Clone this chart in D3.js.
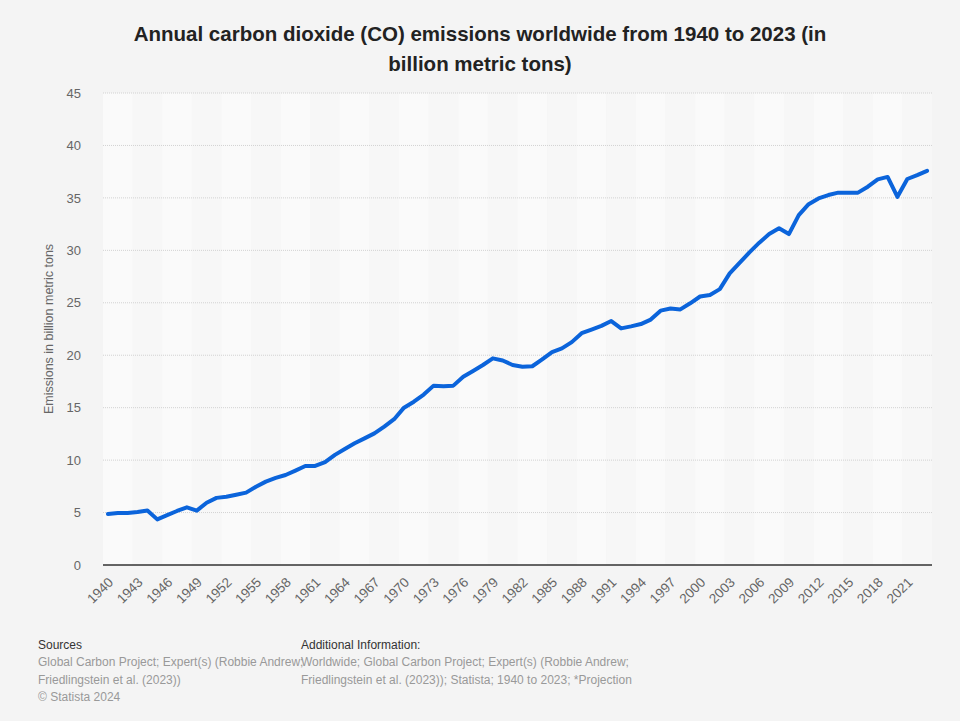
<!DOCTYPE html>
<html>
<head>
<meta charset="utf-8">
<script src="https://cdn.jsdelivr.net/npm/d3@7"></script>
<style>
  html, body { margin: 0; padding: 0; background: #f4f4f4; }
  svg { display: block; font-family: "Liberation Sans", Arial, sans-serif; }
</style>
</head>
<body>
<svg id="chart" width="960" height="721"></svg>
<script>
const years = d3.range(1940, 2024);
const emissions = [
  4.86, 4.95, 4.95, 5.05, 5.2, 4.35, 4.75, 5.15, 5.5, 5.18,
  5.94, 6.4, 6.5, 6.7, 6.9, 7.46, 7.95, 8.3, 8.58, 9.0,
  9.44, 9.44, 9.8, 10.5, 11.06, 11.6, 12.07, 12.55, 13.2, 13.9,
  15.0, 15.57, 16.25, 17.1, 17.05, 17.1, 17.95, 18.5, 19.07, 19.7,
  19.5, 19.07, 18.9, 18.95, 19.6, 20.3, 20.65, 21.25, 22.1, 22.45,
  22.8, 23.26, 22.56, 22.75, 22.97, 23.4, 24.25, 24.45, 24.37, 24.95,
  25.6, 25.75, 26.3, 27.8, 28.8, 29.8, 30.73, 31.55, 32.1, 31.55,
  33.36, 34.4, 34.95, 35.27, 35.5, 35.5, 35.5, 36.07, 36.77, 37.0,
  35.1, 36.8, 37.17, 37.58
];
const yTicks = [0, 5, 10, 15, 20, 25, 30, 35, 40, 45];
const xTickYears = years.filter(y => (y - 1940) % 3 === 0);

const titleLines = [
  "Annual carbon dioxide (CO) emissions worldwide from 1940 to 2023 (in",
  "billion metric tons)"
];
const yAxisTitle = "Emissions in billion metric tons";
const sourcesHead = "Sources";
const sourcesLines = [
  "Global Carbon Project; Expert(s) (Robbie Andrew;",
  "Friedlingstein et al. (2023))",
  "© Statista 2024"
];
const addInfoHead = "Additional Information:";
const addInfoLines = [
  "Worldwide; Global Carbon Project; Expert(s) (Robbie Andrew;",
  "Friedlingstein et al. (2023)); Statista; 1940 to 2023; *Projection"
];

const svg = d3.select("#chart");
const plot = { left: 103, right: 932, top: 93, bottom: 565 };

const x = d3.scaleBand().domain(years).range([plot.left, plot.right]).padding(0);
const y = d3.scaleLinear().domain([0, 45]).range([plot.bottom, plot.top]);
const cx = d => x(d) + x.bandwidth() / 2;

// Alternating column bands (3 years each)
const groups = d3.range(0, years.length, 3);
svg.append("g").selectAll("rect").data(groups).join("rect")
  .attr("x", i => x(years[i]))
  .attr("y", plot.top)
  .attr("width", i => Math.min(3, years.length - i) * x.bandwidth())
  .attr("height", plot.bottom - plot.top)
  .attr("fill", (i, k) => k % 2 === 0 ? "#fafafa" : "#f7f7f7");

// Gridlines
svg.append("g").selectAll("line").data(yTicks.filter(t => t > 0)).join("line")
  .attr("x1", plot.left).attr("x2", plot.right)
  .attr("y1", d => y(d)).attr("y2", d => y(d))
  .attr("stroke", "#d2d2d2").attr("stroke-width", 1)
  .attr("stroke-dasharray", "1,1");

// Y axis
const yAxis = svg.append("g")
  .attr("transform", `translate(${plot.left},0)`)
  .call(d3.axisLeft(y).tickValues(yTicks).tickSize(0).tickPadding(22));
yAxis.select(".domain").remove();
yAxis.selectAll("text").attr("fill", "#666").attr("font-size", 13)
  .attr("font-family", "Liberation Sans, Arial, sans-serif");

// X axis
const xAxis = svg.append("g")
  .attr("transform", `translate(0,${plot.bottom})`)
  .call(d3.axisBottom(x).tickValues(xTickYears).tickSize(0));
xAxis.select(".domain").attr("stroke", "#333").attr("stroke-width", 1.5)
  .attr("d", `M${plot.left},0H${plot.right}`);
xAxis.selectAll("text")
  .attr("fill", "#666").attr("font-size", 13.5)
  .attr("font-family", "Liberation Sans, Arial, sans-serif")
  .attr("text-anchor", "end")
  .attr("dy", 0)
  .attr("transform", "translate(4,16) rotate(-45)");

// Y axis title
svg.append("text")
  .attr("transform", `translate(53,${(plot.top + plot.bottom) / 2}) rotate(-90)`)
  .attr("text-anchor", "middle")
  .attr("fill", "#666").attr("font-size", 12.5)
  .text(yAxisTitle);

// Line
svg.append("path")
  .datum(years.map((yr, i) => [yr, emissions[i]]))
  .attr("fill", "none")
  .attr("stroke", "#0b64db")
  .attr("stroke-width", 4)
  .attr("stroke-linejoin", "round")
  .attr("stroke-linecap", "round")
  .attr("d", d3.line().x(d => cx(d[0])).y(d => y(d[1])));

// Title
svg.append("g").selectAll("text").data(titleLines).join("text")
  .attr("x", 480).attr("y", (d, i) => 41 + i * 30)
  .attr("text-anchor", "middle")
  .attr("font-weight", "bold").attr("font-size", 20.5)
  .attr("fill", "#222")
  .text(d => d);

// Footer
const footer = svg.append("g").attr("font-size", 12);
footer.append("text").attr("x", 38).attr("y", 649).attr("fill", "#333").text(sourcesHead);
footer.selectAll("text.src").data(sourcesLines).join("text").attr("class", "src")
  .attr("x", 38).attr("y", (d, i) => 666 + i * 17.5).attr("fill", "#999").text(d => d);
footer.append("text").attr("x", 301).attr("y", 649).attr("fill", "#333").text(addInfoHead);
footer.selectAll("text.add").data(addInfoLines).join("text").attr("class", "add")
  .attr("x", 301).attr("y", (d, i) => 666 + i * 17.5).attr("fill", "#999").text(d => d);
</script>
</body>
</html>
